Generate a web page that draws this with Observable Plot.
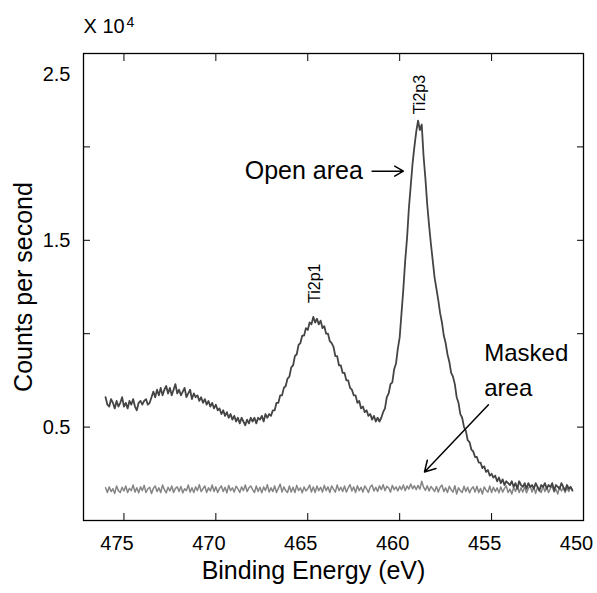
<!DOCTYPE html>
<html><head><meta charset="utf-8">
<script src="https://cdn.jsdelivr.net/npm/d3@7"></script>
<script src="https://cdn.jsdelivr.net/npm/@observablehq/plot@0.6"></script>
<style>body{margin:0;background:#fff;} #chart{width:597px;height:593px;}</style>
</head><body><div id="chart"></div>
<script>
// Binding energy grid (eV)
const bindingEnergy = [
476.0,475.9,475.8,475.7,475.6,475.5,475.4,475.3,475.2,475.1,
475.0,474.9,474.8,474.7,474.6,474.5,474.4,474.3,474.2,474.1,
474.0,473.9,473.8,473.7,473.6,473.5,473.4,473.3,473.2,473.1,
473.0,472.9,472.8,472.7,472.6,472.5,472.4,472.3,472.2,472.1,
472.0,471.9,471.8,471.7,471.6,471.5,471.4,471.3,471.2,471.1,
471.0,470.9,470.8,470.7,470.6,470.5,470.4,470.3,470.2,470.1,
470.0,469.9,469.8,469.7,469.6,469.5,469.4,469.3,469.2,469.1,
469.0,468.9,468.8,468.7,468.6,468.5,468.4,468.3,468.2,468.1,
468.0,467.9,467.8,467.7,467.6,467.5,467.4,467.3,467.2,467.1,
467.0,466.9,466.8,466.7,466.6,466.5,466.4,466.3,466.2,466.1,
466.0,465.9,465.8,465.7,465.6,465.5,465.4,465.3,465.2,465.1,
465.0,464.9,464.8,464.7,464.6,464.5,464.4,464.3,464.2,464.1,
464.0,463.9,463.8,463.7,463.6,463.5,463.4,463.3,463.2,463.1,
463.0,462.9,462.8,462.7,462.6,462.5,462.4,462.3,462.2,462.1,
462.0,461.9,461.8,461.7,461.6,461.5,461.4,461.3,461.2,461.1,
461.0,460.9,460.8,460.7,460.6,460.5,460.4,460.3,460.2,460.1,
460.0,459.9,459.8,459.7,459.6,459.5,459.4,459.3,459.2,459.1,
459.0,458.9,458.8,458.7,458.6,458.5,458.4,458.3,458.2,458.1,
458.0,457.9,457.8,457.7,457.6,457.5,457.4,457.3,457.2,457.1,
457.0,456.9,456.8,456.7,456.6,456.5,456.4,456.3,456.2,456.1,
456.0,455.9,455.8,455.7,455.6,455.5,455.4,455.3,455.2,455.1,
455.0,454.9,454.8,454.7,454.6,454.5,454.4,454.3,454.2,454.1,
454.0,453.9,453.8,453.7,453.6,453.5,453.4,453.3,453.2,453.1,
453.0,452.9,452.8,452.7,452.6,452.5,452.4,452.3,452.2,452.1,
452.0,451.9,451.8,451.7,451.6,451.5,451.4,451.3,451.2,451.1,
451.0,450.9,450.8,450.7,450.6];

// Counts per second (x 10^4), open area
const openArea = [
0.66,0.62,0.61,0.65,0.63,0.60,0.64,0.61,0.63,0.66,
0.61,0.63,0.60,0.64,0.62,0.65,0.61,0.59,0.63,0.64,
0.62,0.64,0.65,0.62,0.63,0.66,0.69,0.66,0.70,0.67,
0.71,0.67,0.70,0.72,0.68,0.71,0.67,0.70,0.73,0.68,
0.70,0.67,0.69,0.71,0.66,0.68,0.70,0.65,0.68,0.66,
0.67,0.64,0.66,0.63,0.65,0.62,0.64,0.61,0.63,0.60,
0.62,0.59,0.60,0.57,0.59,0.56,0.58,0.55,0.57,0.54,
0.56,0.53,0.55,0.52,0.55,0.53,0.51,0.54,0.52,0.55,
0.53,0.55,0.52,0.55,0.54,0.56,0.53,0.57,0.55,0.57,
0.56,0.59,0.59,0.63,0.63,0.67,0.67,0.71,0.72,0.76,
0.77,0.82,0.83,0.88,0.89,0.94,0.95,0.99,0.99,1.03,
1.02,1.06,1.05,1.09,1.06,1.08,1.05,1.07,1.03,1.04,
1.00,1.00,0.96,0.95,0.93,0.88,0.88,0.83,0.83,0.79,
0.79,0.75,0.75,0.71,0.70,0.67,0.67,0.63,0.64,0.60,
0.61,0.58,0.59,0.56,0.57,0.54,0.56,0.53,0.55,0.53,
0.55,0.58,0.60,0.66,0.68,0.73,0.74,0.81,0.84,0.92,
0.98,1.11,1.24,1.39,1.51,1.67,1.79,1.91,2.00,2.08,
2.14,2.09,2.12,1.95,1.83,1.69,1.58,1.48,1.39,1.30,
1.24,1.18,1.11,1.06,0.99,0.95,0.89,0.85,0.79,0.77,
0.73,0.66,0.63,0.57,0.55,0.50,0.48,0.43,0.42,0.38,
0.37,0.34,0.34,0.31,0.31,0.28,0.29,0.26,0.27,0.24,
0.25,0.23,0.24,0.21,0.23,0.20,0.22,0.19,0.21,0.20,
0.19,0.21,0.18,0.20,0.17,0.21,0.19,0.18,0.20,0.17,
0.20,0.18,0.19,0.17,0.20,0.18,0.16,0.19,0.18,0.20,
0.17,0.19,0.18,0.20,0.16,0.19,0.18,0.17,0.20,0.18,
0.16,0.19,0.17,0.18,0.16];

// Counts per second (x 10^4), masked area
const maskedArea = [
0.175,0.15,0.18,0.155,0.17,0.145,0.185,0.16,0.15,0.178,
0.158,0.185,0.15,0.172,0.16,0.19,0.152,0.175,0.148,0.18,
0.16,0.188,0.15,0.17,0.178,0.145,0.172,0.185,0.155,0.175,
0.15,0.19,0.165,0.148,0.178,0.158,0.185,0.15,0.172,0.18,
0.155,0.182,0.148,0.17,0.16,0.19,0.152,0.175,0.15,0.18,
0.16,0.192,0.155,0.17,0.185,0.15,0.175,0.158,0.19,0.155,
0.18,0.15,0.172,0.185,0.155,0.178,0.148,0.188,0.16,0.175,
0.152,0.183,0.17,0.15,0.18,0.16,0.19,0.155,0.175,0.185,
0.165,0.15,0.185,0.155,0.178,0.148,0.18,0.16,0.192,0.152,
0.175,0.155,0.185,0.15,0.172,0.195,0.152,0.18,0.16,0.15,
0.185,0.152,0.178,0.15,0.188,0.16,0.175,0.148,0.18,0.158,
0.17,0.19,0.152,0.18,0.15,0.185,0.16,0.178,0.152,0.188,
0.16,0.18,0.15,0.185,0.168,0.152,0.19,0.16,0.178,0.155,
0.185,0.152,0.175,0.192,0.158,0.18,0.15,0.186,0.16,0.178,
0.152,0.185,0.17,0.15,0.18,0.19,0.158,0.178,0.155,0.186,
0.165,0.192,0.16,0.183,0.175,0.152,0.188,0.165,0.18,0.158,
0.183,0.165,0.19,0.16,0.185,0.168,0.195,0.17,0.186,0.165,
0.188,0.168,0.21,0.178,0.162,0.186,0.158,0.182,0.17,0.155,
0.182,0.152,0.178,0.19,0.155,0.175,0.15,0.183,0.165,0.152,
0.186,0.142,0.175,0.16,0.15,0.183,0.155,0.178,0.148,0.17,
0.18,0.152,0.183,0.15,0.172,0.142,0.18,0.162,0.152,0.185,
0.15,0.178,0.155,0.175,0.148,0.18,0.152,0.172,0.185,0.15,
0.168,0.142,0.178,0.155,0.186,0.15,0.175,0.152,0.18,0.148,
0.172,0.185,0.152,0.178,0.145,0.18,0.16,0.15,0.185,0.155,
0.178,0.15,0.172,0.185,0.152,0.168,0.142,0.18,0.158,0.176,
0.15,0.175,0.155,0.18,0.162];

// Axis ticks
const xTicks = [475, 470, 465, 460, 455, 450];
const yTicks = [0.5, 1.0, 1.5, 2.0, 2.5];
const yTickLabels = [0.5, 1.5];
const yTopTickLabel = [2.5];

// Annotations (data units)
const peakLabels = [{x: 464.6, y: 1.27, text: "Ti2p1"}, {x: 458.92, y: 2.28, text: "Ti2p3"}];
const openLabel = [{x: 462.0, y: 1.87, text: "Open area"}];
const openArrow = [{x1: 461.5, y1: 1.87, x2: 459.8, y2: 1.87}];
const maskedLabel = [{x: 455.4, y: 0.82, text: "Masked\narea"}];
const maskedArrow = [{x1: 455.17, y1: 0.62, x2: 458.65, y2: 0.26}];

const openRows = bindingEnergy.map((e, i) => ({e, v: openArea[i]}));
const maskedRows = bindingEnergy.map((e, i) => ({e, v: maskedArea[i]}));

const font = "Arial, 'Liberation Sans', Helvetica, sans-serif";
const plot = Plot.plot({
  width: 597, height: 593,
  marginTop: 53, marginLeft: 83, marginRight: 14, marginBottom: 73,
  x: {domain: [477.2, 450], label: null},
  y: {domain: [0, 2.5], label: null},
  style: {fontFamily: font, color: "#000", background: "#fff", overflow: "visible"},
  marks: [
    Plot.line(maskedRows, {x: "e", y: "v", stroke: "#858585", strokeWidth: 1.5}),
    Plot.line(openRows, {x: "e", y: "v", stroke: "#444444", strokeWidth: 1.8}),
    Plot.frame({stroke: "#000", strokeWidth: 1.3}),
    Plot.axisX(xTicks, {anchor: "bottom", tickSize: -7, fill: "none", label: null}),
    Plot.axisX(xTicks, {anchor: "top", tickSize: -7, fill: "none", label: null}),
    Plot.axisY(yTicks, {anchor: "left", tickSize: -7, fill: "none", label: null}),
    Plot.axisY(yTicks, {anchor: "right", tickSize: -7, fill: "none", label: null}),
    Plot.axisX(xTicks, {anchor: "bottom", tickSize: 0, tickPadding: 15, fontSize: 20, dx: -7, label: null}),
    Plot.axisY(yTickLabels, {anchor: "left", tickSize: 0, tickPadding: 13, fontSize: 20, label: null}),
    Plot.axisY(yTopTickLabel, {anchor: "left", tickSize: 0, tickPadding: 13, fontSize: 20, dy: 21, label: null}),
    Plot.text(["Binding Energy (eV)"], {frameAnchor: "bottom", dy: 50, dx: -20, fontSize: 25, lineAnchor: "middle"}),
    Plot.text(["Counts per second"], {frameAnchor: "left", textAnchor: "middle", dx: -60, rotate: -90, fontSize: 25}),
    Plot.text(["X 10"], {frameAnchor: "top-left", textAnchor: "start", dy: -27, fontSize: 20, lineAnchor: "middle"}),
    Plot.text(["4"], {frameAnchor: "top-left", textAnchor: "start", dx: 43, dy: -36, fontSize: 14, lineAnchor: "top"}),
    Plot.text(peakLabels, {x: "x", y: "y", text: "text", rotate: -90, fontSize: 16, fill: "#000"}),
    Plot.text(openLabel, {x: "x", y: "y", text: "text", textAnchor: "end", fontSize: 25}),
    Plot.arrow(openArrow, {x1: "x1", y1: "y1", x2: "x2", y2: "y2", stroke: "#000", strokeWidth: 1.5, headLength: 10}),
    Plot.text(maskedLabel, {x: "x", y: "y", text: "text", textAnchor: "start", fontSize: 24, lineHeight: 1.45}),
    Plot.arrow(maskedArrow, {x1: "x1", y1: "y1", x2: "x2", y2: "y2", stroke: "#000", strokeWidth: 1.5, headLength: 12})
  ]
});
document.getElementById("chart").appendChild(plot);
</script>
</body></html>
